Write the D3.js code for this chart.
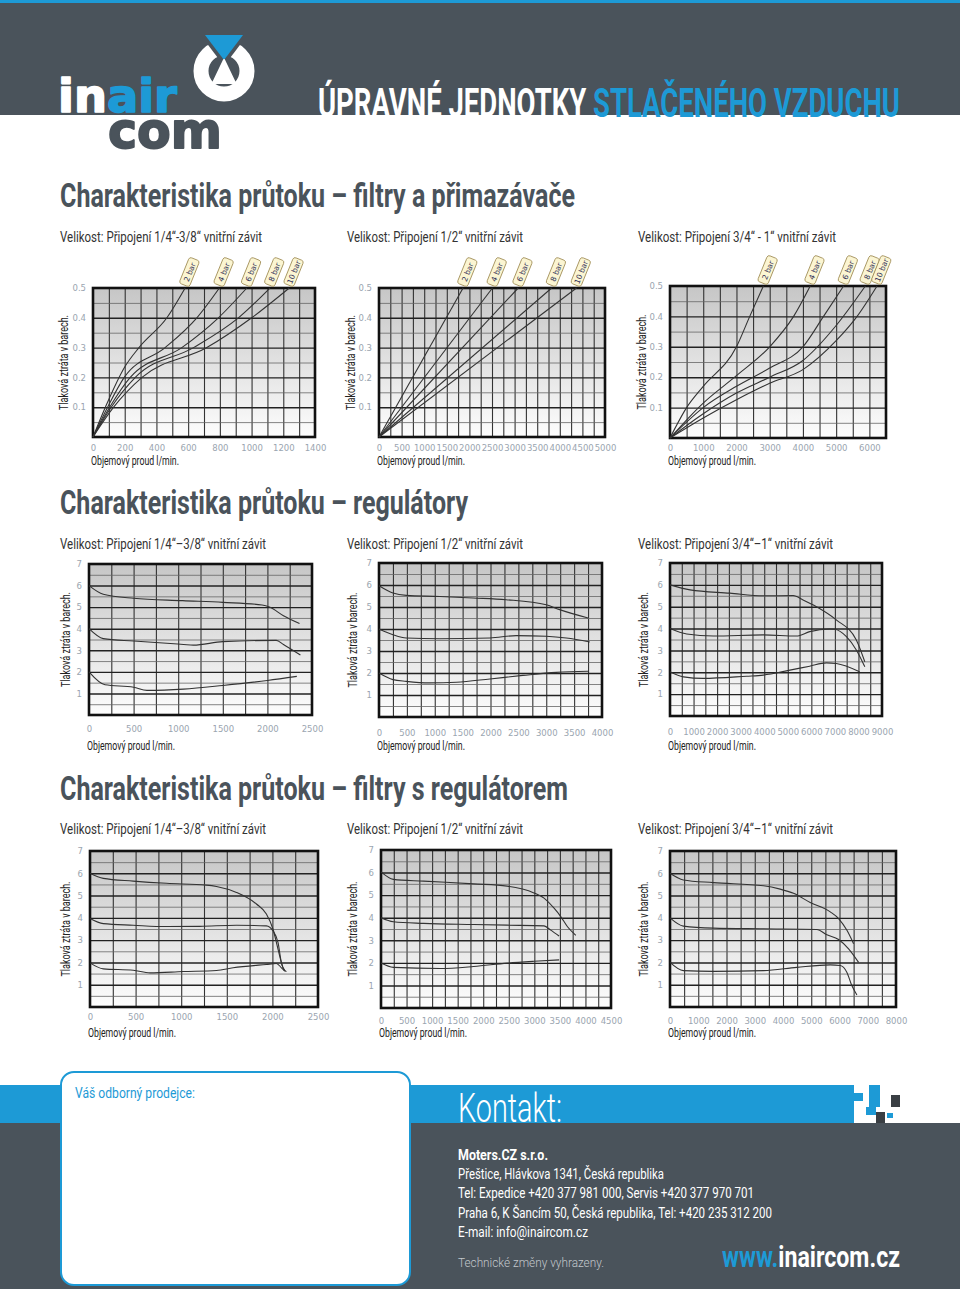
<!DOCTYPE html>
<html><head><meta charset="utf-8">
<script src="https://cdn.jsdelivr.net/npm/d3@7"></script>
<style>body{margin:0;background:#fff}svg{display:block}</style>
</head><body>
<svg id="c" width="960" height="1289"></svg>
<script>
// ---------------- DATA ----------------
const BAR_LABELS = ["2 bar", "4 bar", "6 bar", "8 bar", "10 bar"];
const FIL_Y = [0.1, 0.2, 0.3, 0.4, 0.5];
const PRESS_Y = [1, 2, 3, 4, 5, 6, 7];

// Filtry a přimazávače 1/4"-3/8" (x: l/min, y: bar)
const FIL14_X = [0, 200, 400, 600, 800, 1000, 1200, 1400];
const FIL14 = [
  [[0,0],[78,0.1],[200,0.235],[290,0.3],[466,0.4],[581,0.5]],
  [[0,0],[92,0.1],[197,0.2],[455,0.3],[655,0.4],[797,0.5]],
  [[0,0],[105,0.1],[235,0.2],[560,0.3],[791,0.4],[970,0.5]],
  [[0,0],[115,0.1],[267,0.2],[634,0.3],[917,0.4],[1116,0.5]],
  [[0,0],[130,0.1],[309,0.2],[718,0.3],[1001,0.4],[1238,0.5]]
];
// Filtry a přimazávače 1/2"
const FIL12_X = [0, 500, 1000, 1500, 2000, 2500, 3000, 3500, 4000, 4500, 5000];
const FIL12 = [
  [[0,0],[1860,0.5]],
  [[0,0],[2510,0.5]],
  [[0,0],[3080,0.5]],
  [[0,0],[3820,0.5]],
  [[0,0],[4370,0.5]]
];
// Filtry a přimazávače 3/4"-1"
const FIL34_X = [0, 1000, 2000, 3000, 4000, 5000, 6000];
const FIL34 = [
  [[0,0],[500,0.1],[1000,0.17],[2000,0.3],[2400,0.4],[2810,0.5]],
  [[0,0],[1000,0.115],[2000,0.205],[3000,0.3],[3720,0.4],[4220,0.5]],
  [[0,0],[1000,0.1],[2000,0.17],[3000,0.23],[4000,0.3],[4620,0.4],[5224,0.5]],
  [[0,0],[1000,0.08],[2000,0.148],[3000,0.2],[4000,0.255],[5000,0.37],[5880,0.5]],
  [[0,0],[1000,0.066],[2000,0.126],[3000,0.18],[4000,0.225],[5000,0.32],[5630,0.4],[6230,0.5]]
];
// Regulátory 1/4"-3/8"
const REG14_X = [0, 500, 1000, 1500, 2000, 2500];
const REG14 = [
  [[0,6.0],[160,5.6],[500,5.41],[1050,5.3],[1500,5.22],[1940,5.1],[2030,4.99],[2180,4.6],[2360,4.24]],
  [[0,4.0],[160,3.54],[500,3.43],[1060,3.27],[1170,3.24],[1500,3.4],[2100,3.46],[2180,3.27],[2370,2.78]],
  [[0,2.0],[180,1.4],[500,1.29],[650,1.14],[1060,1.2],[1500,1.37],[2000,1.6],[2330,1.79]]
];
// Regulátory 1/2"
const REG12_X = [0, 500, 1000, 1500, 2000, 2500, 3000, 3500, 4000];
const REG12 = [
  [[0,5.97],[250,5.64],[490,5.53],[1090,5.48],[1690,5.41],[2280,5.33],[3000,5.1],[3240,4.88],[3750,4.5]],
  [[0,4.0],[250,3.74],[490,3.59],[1090,3.56],[1990,3.59],[2460,3.7],[3000,3.67],[3360,3.59],[3780,3.41]],
  [[0,2.0],[250,1.7],[490,1.62],[910,1.55],[1390,1.58],[1990,1.73],[2580,1.89],[3180,2.03],[3750,2.08]]
];
// Regulátory 3/4"-1"
const REG34_X = [0, 1000, 2000, 3000, 4000, 5000, 6000, 7000, 8000, 9000];
const REG34 = [
  [[0,6.0],[850,5.77],[2540,5.62],[3960,5.5],[5230,5.51],[5650,5.31],[6220,5.0],[7060,4.4],[7910,3.48],[8270,2.48]],
  [[0,4.0],[710,3.75],[1840,3.66],[3960,3.71],[5370,3.66],[5930,3.86],[6780,3.98],[6990,3.97],[7490,3.63],[7910,3.02],[8270,2.25]],
  [[0,2.02],[570,1.79],[1410,1.72],[3250,1.82],[3960,1.87],[5090,2.1],[5930,2.28],[6640,2.43],[7060,2.4],[8050,2.02]]
];
// Filtry s regulátorem 1/4"-3/8"
const FR14_X = [0, 500, 1000, 1500, 2000, 2500];
const FR14 = [
  [[0,6.0],[146,5.77],[474,5.65],[839,5.55],[1277,5.47],[1387,5.41],[1606,5.14],[1825,4.62],[1934,4.17],[2007,3.49],[2062,2.59],[2117,1.76],[2153,1.58]],
  [[0,3.97],[146,3.74],[474,3.67],[839,3.61],[1204,3.62],[1606,3.67],[1934,3.64],[2007,3.41],[2062,2.89],[2099,1.98],[2135,1.61]],
  [[0,1.98],[146,1.71],[474,1.65],[657,1.53],[1022,1.59],[1387,1.64],[1569,1.76],[1934,1.91],[2044,1.95],[2099,1.76],[2135,1.61]]
];
// Filtry s regulátorem 1/2"
const FR12_X = [0, 500, 1000, 1500, 2000, 2500, 3000, 3500, 4000, 4500];
const FR12 = [
  [[0,6.03],[242,5.7],[832,5.62],[1814,5.5],[2469,5.4],[2993,5.1],[3190,4.87],[3386,4.42],[3517,4.05],[3649,3.6],[3812,3.22]],
  [[0,4.0],[242,3.82],[832,3.75],[1814,3.7],[2469,3.67],[3190,3.64],[3321,3.45],[3485,3.19]],
  [[0,1.99],[242,1.8],[1159,1.75],[1814,1.84],[2469,1.99],[2993,2.07],[3485,2.13]]
];
// Filtry s regulátorem 3/4"-1"
const FR34_X = [0, 1000, 2000, 3000, 4000, 5000, 6000, 7000, 8000];
const FR34 = [
  [[0,6.0],[473,5.7],[1536,5.58],[3309,5.44],[3900,5.29],[4372,5.1],[4963,4.69],[5672,4.27],[5968,3.97],[6263,3.44],[6499,2.84]],
  [[0,4.0],[473,3.63],[1536,3.54],[3309,3.51],[5199,3.48],[5554,3.24],[5968,3.03],[6322,2.61],[6676,2.0]],
  [[0,2.0],[473,1.63],[1536,1.6],[3309,1.63],[4490,1.78],[5672,1.89],[6027,1.86],[6263,1.55],[6440,0.95],[6617,0.54]]
];

const SECTION_TITLES = ["Charakteristika průtoku – filtry a přimazávače", "Charakteristika průtoku – regulátory", "Charakteristika průtoku – filtry s regulátorem"];
const SUBTITLES_1 = ["Velikost: Připojení 1/4“-3/8“ vnitřní závit", "Velikost: Připojení 1/2“ vnitřní závit", "Velikost: Připojení 3/4“ - 1“ vnitřní závit"];
const SUBTITLES_2 = ["Velikost: Připojení 1/4“–3/8“ vnitřní závit", "Velikost: Připojení 1/2“ vnitřní závit", "Velikost: Připojení 3/4“–1“ vnitřní závit"];
const Y_TITLE = "Tlaková ztráta v barech.";
const X_TITLE = "Objemový proud l/min.";
const CONTACT_LINES = ["Přeštice, Hlávkova 1341, Česká republika", "Tel: Expedice +420 377 981 000, Servis +420 377 970 701", "Praha 6, K Šancím 50, Česká republika, Tel: +420 235 312 200", "E-mail: info@inaircom.cz"];

// ---------------- DRAW ----------------
const DARK = "#4a535b", BLUE = "#1d9ad6";
const COND = "Roboto, 'Open Sans', sans-serif";
const svg = d3.select("#c");
const defs = svg.append("defs");
const grad = defs.append("linearGradient").attr("id","bg").attr("x1",0).attr("y1",0).attr("x2",0).attr("y2",1);
grad.append("stop").attr("offset","0%").attr("stop-color","#c6c6c6");
grad.append("stop").attr("offset","100%").attr("stop-color","#fdfdfd");

function fit(t, w){ return t.attr("textLength", w).attr("lengthAdjust","spacingAndGlyphs"); }
function txt(x, y, s, size, fill, weight, w){
  const t = svg.append("text").attr("x",x).attr("y",y).text(s)
    .attr("font-family",COND).attr("font-size",size).attr("fill",fill).attr("font-weight",weight||400);
  if (w) fit(t, w);
  return t;
}

// Header
svg.append("rect").attr("x",0).attr("y",0).attr("width",960).attr("height",115).attr("fill",DARK);
svg.append("rect").attr("x",0).attr("y",0).attr("width",960).attr("height",3).attr("fill",BLUE);
// logo
const lt = svg.append("text").attr("x",58).attr("y",112).attr("font-family","'DejaVu Sans', sans-serif").attr("font-weight",700).attr("font-size",46)
  .attr("stroke-width",1.6).attr("stroke-linejoin","round");
lt.append("tspan").attr("fill","#fff").attr("stroke","#fff").text("in");
lt.append("tspan").attr("fill",BLUE).attr("stroke",BLUE).text("air");
fit(lt, 119);
fit(svg.append("text").attr("x",108).attr("y",148).attr("font-family","'DejaVu Sans', sans-serif").attr("font-weight",700).attr("font-size",50)
  .attr("fill",DARK).attr("stroke",DARK).attr("stroke-width",1.8).attr("stroke-linejoin","round").text("com"), 114);
svg.append("circle").attr("cx",224).attr("cy",71).attr("r",23).attr("fill","none").attr("stroke","#fff").attr("stroke-width",15);
svg.append("path").attr("d","M199,33 L249,33 L224,66 Z").attr("fill",DARK);
svg.append("path").attr("d","M205,35 L243,35 L224,60 Z").attr("fill",BLUE);
svg.append("path").attr("d","M224,60 L235,83 L213,83 Z").attr("fill","#fff").attr("stroke","#fff").attr("stroke-linejoin","round").attr("stroke-width",2);
// header title
const ht = svg.append("text").attr("x",318).attr("y",117).attr("font-family",COND).attr("font-weight",700).attr("font-size",40);
ht.append("tspan").attr("fill","#fff").text("ÚPRAVNÉ JEDNOTKY ");
ht.append("tspan").attr("fill",BLUE).text("STLAČENÉHO VZDUCHU");
fit(ht, 582);

// Section titles
txt(60, 207, SECTION_TITLES[0], 33, DARK, 700, 515);
txt(60, 514, SECTION_TITLES[1], 33, DARK, 700, 408);
txt(60, 800, SECTION_TITLES[2], 33, DARK, 700, 508);

// Subtitles
const subX = [60, 347, 638];
const subW1 = [202, 176, 198], subW2 = [206, 176, 195];
SUBTITLES_1.forEach((s,i)=>txt(subX[i], 242, s, 14.5, "#333", 400, subW1[i]));
SUBTITLES_2.forEach((s,i)=>txt(subX[i], 549, s, 14.5, "#333", 400, subW2[i]));
SUBTITLES_2.forEach((s,i)=>txt(subX[i], 834, s, 14.5, "#333", 400, subW2[i]));

function chart(c){
  const g = svg.append("g");
  const x = d3.scaleLinear().domain([0,c.xmax]).range([c.x0,c.x1]);
  const y = d3.scaleLinear().domain([0,c.ymax]).range([c.y1,c.y0]);
  const W = c.x1 - c.x0, H = c.y1 - c.y0;
  g.append("rect").attr("x",c.x0).attr("y",c.y0).attr("width",W).attr("height",H).attr("fill","url(#bg)");
  // vertical grid
  const vg = g.append("g").attr("transform",`translate(0,${c.y1})`)
    .call(d3.axisBottom(x).tickValues(d3.range(c.xgrid, c.xmax - 1e-6, c.xgrid)).tickSize(-H).tickFormat(""));
  vg.select(".domain").remove();
  vg.selectAll("line").attr("stroke","#333").attr("stroke-width",1.1);
  // horizontal grid
  const hg = g.append("g").attr("transform",`translate(${c.x0},0)`)
    .call(d3.axisLeft(y).tickValues(d3.range(c.ygrid, c.ymax - 1e-6, c.ygrid)).tickSize(-W).tickFormat(""));
  hg.select(".domain").remove();
  hg.selectAll("line").each(function(d){
    const major = Math.abs(d / c.ymajor - Math.round(d / c.ymajor)) < 1e-6;
    d3.select(this).attr("stroke", major ? "#222" : "#666").attr("stroke-width", major ? 1.4 : 0.8);
  });
  // frame
  g.append("rect").attr("x",c.x0).attr("y",c.y0).attr("width",W).attr("height",H)
    .attr("fill","none").attr("stroke","#111").attr("stroke-width",2.6);
  // curves
  const line = d3.line().x(d=>x(d[0])).y(d=>y(d[1])).curve(d3.curveMonotoneX);
  g.selectAll("path.curve").data(c.series).join("path").attr("class","curve")
    .attr("d", line).attr("fill","none").attr("stroke","#333").attr("stroke-width",1.1);
  // bar labels
  if (c.labels){
    c.series.forEach((s,i)=>{
      const e = s[s.length-1];
      const lg = g.append("g").attr("transform",`translate(${x(e[0])-1},${c.y0-3}) rotate(-68)`);
      lg.append("rect").attr("x",0).attr("y",-5.5).attr("width",28).attr("height",11).attr("rx",2.5)
        .attr("fill","#fbf5d2").attr("stroke","#a08c55").attr("stroke-width",0.8);
      lg.append("text").attr("x",14).attr("y",3).attr("text-anchor","middle")
        .attr("font-family","'DejaVu Sans', sans-serif").attr("font-size",7.5).attr("fill","#2b2b55").text(c.labels[i]);
    });
  }
  // tick labels
  const xa = g.append("g").attr("transform",`translate(0,${c.xlabY})`)
    .call(d3.axisBottom(x).tickValues(c.xticks).tickSize(0).tickFormat(d3.format("d")));
  xa.select(".domain").remove();
  xa.selectAll("text").attr("y",0).attr("dy",null).attr("fill","#9aa5b0")
    .attr("font-family","'DejaVu Sans', sans-serif").attr("font-size",8.5);
  const ya = g.append("g").attr("transform",`translate(${c.x0-7},0)`)
    .call(d3.axisLeft(y).tickValues(c.yticks).tickSize(0).tickFormat(c.yfmt));
  ya.select(".domain").remove();
  ya.selectAll("text").attr("x",0).attr("fill","#9aa5b0")
    .attr("font-family","'DejaVu Sans', sans-serif").attr("font-size",8.5);
  // axis titles
  fit(g.append("text").attr("transform",`translate(${c.ytX},${(c.y0+c.y1)/2}) rotate(-90)`).attr("text-anchor","middle")
    .attr("font-family",COND).attr("font-size",13).attr("fill","#222").text(Y_TITLE), 95);
  fit(g.append("text").attr("x",c.x0-2).attr("y",c.xtY)
    .attr("font-family",COND).attr("font-size",13).attr("fill","#222").text(X_TITLE), 88);
}

const f1 = d3.format(".1f"), fi = d3.format("d");
const rowFil = {ymax:0.5, ygrid:0.05, ymajor:0.1, yticks:FIL_Y, yfmt:f1, labels:BAR_LABELS};
chart({...rowFil, x0:93, x1:315, y0:288, y1:437, xmax:1400, xgrid:100, xticks:FIL14_X, series:FIL14, xlabY:451, ytX:68, xtY:465});
chart({...rowFil, x0:379, x1:605, y0:288, y1:437, xmax:5000, xgrid:250, xticks:FIL12_X, series:FIL12, xlabY:451, ytX:355, xtY:465});
chart({...rowFil, x0:670, x1:886, y0:286, y1:438, xmax:6500, xgrid:500, xticks:FIL34_X, series:FIL34, xlabY:451, ytX:646, xtY:465});

const rowP = {ymax:7, ygrid:0.5, ymajor:1, yticks:PRESS_Y, yfmt:fi};
chart({...rowP, x0:89, x1:312, y0:564, y1:715, xmax:2500, xgrid:250, xticks:REG14_X, series:REG14, xlabY:732, ytX:70, xtY:750});
chart({...rowP, x0:379, x1:602, y0:563, y1:717, xmax:4000, xgrid:250, xticks:REG12_X, series:REG12, xlabY:736, ytX:357, xtY:750});
chart({...rowP, x0:670, x1:882, y0:563, y1:716, xmax:9000, xgrid:500, xticks:REG34_X, series:REG34, xlabY:735, ytX:648, xtY:750});

chart({...rowP, x0:90, x1:318, y0:851, y1:1007, xmax:2500, xgrid:250, xticks:FR14_X, series:FR14, xlabY:1020, ytX:70, xtY:1037});
chart({...rowP, x0:381, x1:611, y0:850, y1:1008, xmax:4500, xgrid:250, xticks:FR12_X, series:FR12, xlabY:1024, ytX:357, xtY:1037});
chart({...rowP, x0:670, x1:896, y0:851, y1:1007, xmax:8000, xgrid:500, xticks:FR34_X, series:FR34, xlabY:1024, ytX:648, xtY:1037});

// Footer
svg.append("rect").attr("x",0).attr("y",1085).attr("width",854).attr("height",38).attr("fill",BLUE);
svg.append("rect").attr("x",0).attr("y",1123).attr("width",960).attr("height",166).attr("fill",DARK);
[[854,1093,9,8,BLUE],[869,1085,11,22,BLUE],[891,1095,9,12,"#3a3f44"],[876,1112,9,11,"#3a3f44"],[866,1107,10,8,BLUE],[887,1113,6,5,BLUE]]
  .forEach(r=>svg.append("rect").attr("x",r[0]).attr("y",r[1]).attr("width",r[2]).attr("height",r[3]).attr("fill",r[4]));
svg.append("rect").attr("x",61).attr("y",1072).attr("width",349).attr("height",213).attr("rx",13)
  .attr("fill","#fff").attr("stroke",BLUE).attr("stroke-width",2);
txt(75, 1098, "Váš odborný prodejce:", 14, BLUE, 400, 120);
txt(458, 1122, "Kontakt:", 40, "#fff", 300, 104);
txt(458, 1160, "Moters.CZ s.r.o.", 14.5, "#fff", 700, 90);
const cw = [206, 296, 314, 130];
CONTACT_LINES.forEach((s,i)=>txt(458, 1179 + i*19.3, s, 14.5, "#fff", 400, cw[i]));
txt(458, 1267, "Technické změny vyhrazeny.", 13, "#c3c8cd", 300, 146);
const ww = svg.append("text").attr("x",722).attr("y",1267).attr("font-family",COND).attr("font-weight",700).attr("font-size",30);
ww.append("tspan").attr("fill",BLUE).text("www.");
ww.append("tspan").attr("fill","#fff").text("inaircom.cz");
fit(ww, 178);
</script>
</body></html>
